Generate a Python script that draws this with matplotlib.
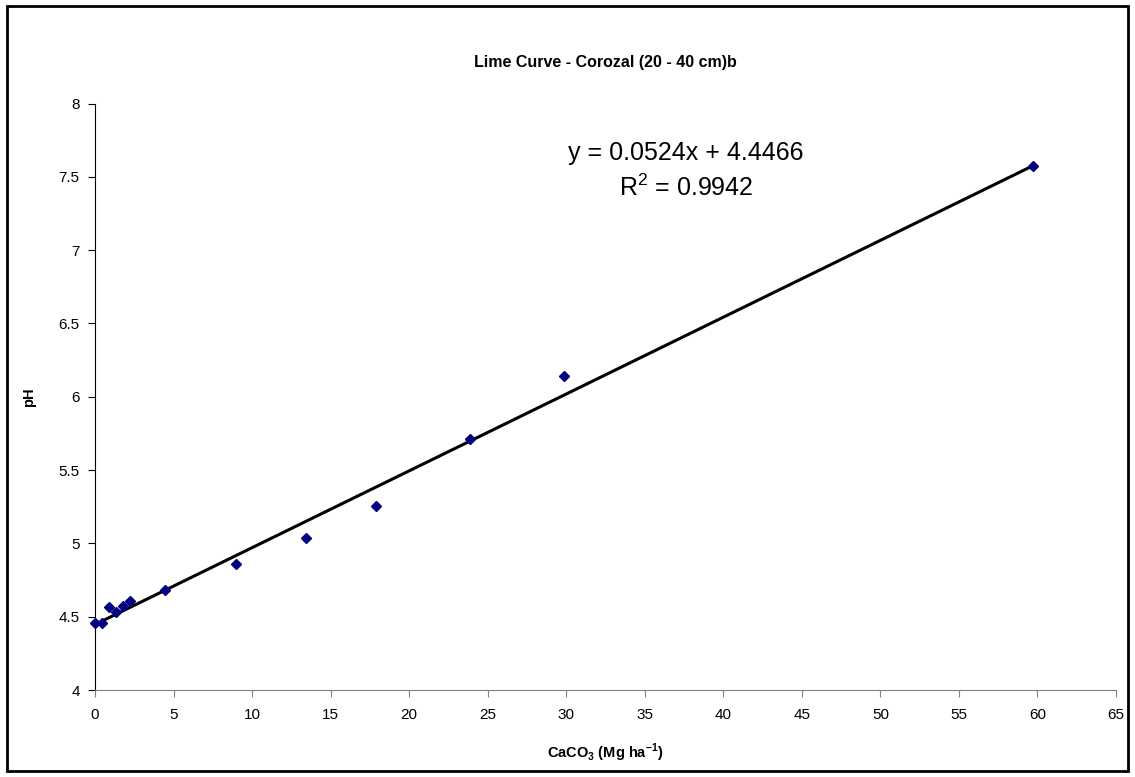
import numpy as np
import matplotlib
matplotlib.use("Agg")
import matplotlib.pyplot as plt
from matplotlib.patches import Rectangle
from matplotlib.ticker import FormatStrFormatter

# ==============================================================
# data
caco3 = [0, 0.448, 0.896, 1.344, 1.792, 2.24, 4.48, 8.96, 13.44, 17.92, 23.9, 29.87, 59.73]  # Mg/ha
ph = [4.46, 4.455, 4.564, 4.534, 4.573, 4.605, 4.682, 4.86, 5.04, 5.255, 5.714, 6.14, 7.574]
slope = 0.0524
intercept = 4.4466
r2 = 0.9942
xticks = np.arange(0, 70, 5)
yticks = np.arange(4, 8.5, 0.5)

# ==============================================================
# Visualization
plt.rcParams['font.family'] = ['Liberation Sans', 'DejaVu Sans']
plt.rcParams['mathtext.fontset'] = 'custom'
plt.rcParams['mathtext.rm'] = 'Liberation Sans'
plt.rcParams['mathtext.bf'] = 'Liberation Sans:bold'

W, H = 1135, 777
f = plt.figure(figsize=(W/100, H/100), dpi=100)
ax = f.add_axes([95/W, 1-690/H, (1116-95)/W, (690-103.5)/H])

x = np.array(caco3)
xfit = np.array([x.min(), x.max()])
ax.plot(xfit, slope*xfit + intercept, color='black', lw=2.2, zorder=2)
ax.plot(x, ph, ls='none', marker='D', ms=5.5, color='#000080', zorder=3, clip_on=False)

ax.set_xlim(0, 65)
ax.set_ylim(4, 8)
ax.set_xticks(xticks)
ax.set_yticks(yticks)
ax.yaxis.set_major_formatter(FormatStrFormatter('%g'))
ax.spines['top'].set_visible(False)
ax.spines['right'].set_visible(False)
ax.spines['left'].set_color('black')
ax.spines['bottom'].set_color('#808080')
ax.tick_params(axis='y', direction='out', length=5, color='black', labelsize=11, pad=6)
ax.tick_params(axis='x', direction='out', length=5, color='#808080', labelsize=11, pad=8)

ax.set_xlabel(r'CaCO$_\mathbf{3}$ (Mg ha$^\mathbf{-1}$)', fontsize=10.5, fontweight='bold', labelpad=14)
ax.set_ylabel('pH', fontsize=10.5, fontweight='bold', labelpad=16)

f.text(605/W, 1-62/H, 'Lime Curve - Corozal (20 - 40 cm)b', fontsize=11.5,
       fontweight='bold', ha='center', va='center')
f.text(686/W, 1-153/H, 'y = 0.0524x + 4.4466', fontsize=18, ha='center', va='center')
f.text(686/W, 1-188/H, r'R$^2$ = %.4f' % r2, fontsize=18, ha='center', va='center')

# outer chart border
f.patches.append(Rectangle((7/W, 6/H), (1128-7)/W, (771-6)/H, transform=f.transFigure,
                           fill=False, edgecolor='black', lw=2))

f.savefig("out.png", dpi=100)
